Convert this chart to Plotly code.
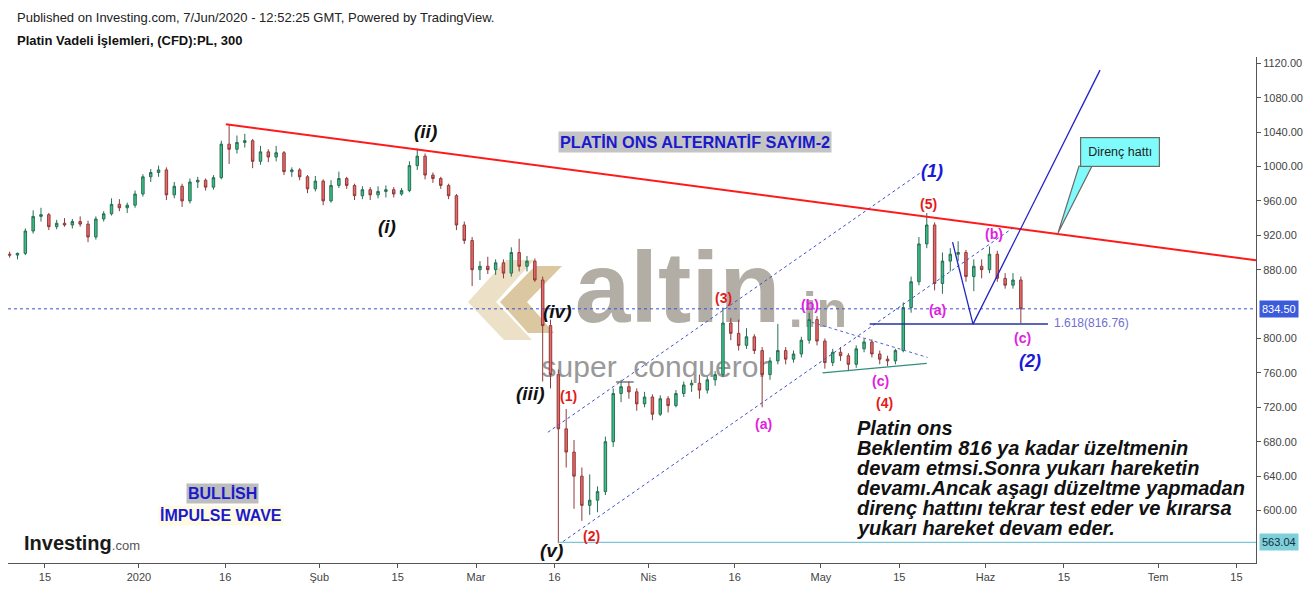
import pandas as pd
import plotly.graph_objects as go

# ---------------- data (daily bars) ----------------
dates = pd.bdate_range("2019-12-09", "2020-06-05")
candle_x = [d + pd.Timedelta(hours=12) for d in dates]

opens = [898, 897, 899, 925, 942, 944, 930, 934, 932, 936,
         933, 918, 939, 945, 956, 952, 955, 968, 988, 993,
         996, 967, 977, 960, 982, 984, 976, 987, 1026, 1020,
         1028, 1030, 1006, 1017, 1011, 1016, 994, 996, 988, 974,
         983, 960, 978, 986, 978, 966, 973, 967, 971, 973,
         968, 972, 1001, 1012, 990, 986, 978, 966, 932, 914,
         880, 884, 880, 888, 876, 900, 884, 890, 868, 815,
         758, 695, 668, 640, 606, 612, 622, 680, 736, 744,
         738, 724, 732, 712, 730, 722, 736, 746, 748, 740,
         752, 758, 818, 806, 792, 802, 786, 758, 774, 786,
         776, 782, 798, 822, 797, 772, 784, 780, 770, 788,
         796, 782, 776, 774, 786, 836, 866, 910, 932, 864,
         890, 898, 900, 872, 884, 880, 898, 870, 862, 868]
highs = [901, 900, 928, 949, 952, 946, 938, 940, 939, 942,
         937, 942, 948, 963, 962, 958, 972, 991, 997, 1001,
         999, 982, 980, 986, 988, 986, 990, 1030, 1048, 1036,
         1038, 1032, 1024, 1020, 1024, 1018, 999, 998, 990, 989,
         985, 984, 994, 988, 980, 977, 976, 977, 978, 976,
         975, 1006, 1021, 1015, 993, 988, 980, 968, 936, 918,
         890, 895, 892, 892, 906, 916, 896, 893, 872, 822,
         764, 718, 682, 650, 642, 628, 686, 742, 752, 750,
         742, 738, 735, 734, 733, 740, 750, 752, 758, 756,
         762, 836, 824, 822, 812, 805, 790, 778, 817, 790,
         786, 802, 830, 826, 800, 788, 790, 783, 792, 800,
         799, 786, 780, 788, 842, 872, 918, 946, 935, 900,
         905, 913, 903, 892, 892, 907, 902, 876, 876, 872]
lows = [894, 892, 897, 922, 936, 926, 927, 930, 928, 930,
        912, 915, 936, 943, 948, 946, 952, 965, 982, 988,
        961, 963, 953, 957, 975, 972, 973, 985, 1003, 1015,
        1022, 998, 1002, 1005, 1006, 990, 988, 984, 969, 971,
        955, 958, 975, 974, 961, 962, 961, 963, 964, 964,
        966, 970, 996, 985, 981, 974, 962, 926, 910, 861,
        868, 875, 874, 870, 872, 878, 878, 866, 750, 742,
        562, 650, 602, 588, 595, 598, 618, 674, 726, 730,
        716, 720, 705, 710, 714, 720, 732, 738, 730, 736,
        745, 755, 798, 786, 788, 782, 720, 752, 770, 770,
        772, 778, 794, 792, 765, 768, 774, 762, 766, 784,
        778, 770, 768, 770, 784, 830, 862, 905, 856, 852,
        878, 890, 866, 855, 870, 876, 866, 858, 858, 818]
closes = [897, 899, 925, 942, 944, 930, 934, 932, 936, 933,
          918, 939, 945, 956, 952, 955, 968, 988, 993, 996,
          967, 977, 960, 982, 984, 976, 987, 1026, 1020, 1028,
          1030, 1006, 1017, 1011, 1016, 994, 996, 988, 974, 983,
          960, 978, 986, 978, 966, 973, 967, 971, 973, 968,
          972, 1001, 1012, 990, 986, 978, 966, 932, 914, 880,
          884, 880, 888, 876, 900, 884, 890, 868, 815, 758,
          695, 668, 640, 606, 612, 622, 680, 736, 744, 738,
          724, 732, 712, 730, 722, 736, 746, 748, 740, 752,
          758, 818, 806, 792, 802, 786, 758, 774, 786, 776,
          782, 798, 822, 797, 772, 784, 780, 770, 788, 796,
          782, 776, 774, 786, 836, 866, 910, 932, 864, 890,
          898, 900, 872, 884, 880, 898, 870, 862, 868, 834.5]

tick_dates = ["2019-12-16", "2020-01-01", "2020-01-16", "2020-02-03", "2020-02-17",
              "2020-03-02", "2020-03-16", "2020-04-01", "2020-04-16", "2020-05-01",
              "2020-05-15", "2020-06-01", "2020-06-15", "2020-07-01", "2020-07-15"]
tick_labels = ["15", "2020", "16", "Şub", "15", "Mar", "16", "Nis", "16", "May",
               "15", "Haz", "15", "Tem", "15"]
# 840.00 is hidden behind the last-price tag in the reference
price_ticks = [600, 640, 680, 720, 760, 800, 880, 920, 960, 1000, 1040, 1080, 1120]

last_price = 834.50
low_price = 563.04
fib_level = 816.76

# analyst drawings (date, price)
resist_x = ["2020-01-16 02:00", "2020-07-17 12:00"]
resist_y = [1049, 891]
chan_up_x = ["2020-03-13 04:00", "2020-05-19 21:30"]
chan_up_y = [691, 994]
chan_lo_x = ["2020-03-17 02:30", "2020-06-04 09:30"]
chan_lo_y = [564, 928]
tri_up_x = ["2020-04-29 19:00", "2020-05-20 14:30"]
tri_up_y = [819, 778]
tri_lo_x = ["2020-05-01 05:00", "2020-05-20 12:00"]
tri_lo_y = [760, 771]
fib_x = ["2020-05-11 05:00", "2020-06-10 23:00"]
v_x = ["2020-05-25 19:00", "2020-05-28 09:30", "2020-06-19 14:30"]
v_y = [912, fib_level, 1112]

# ---------------- layout helpers ----------------
# the page adds an 8px body margin: figure is placed at (8, 8) of the window
OFF = 8
W, H = 1316 - OFF, 589 - OFF - 1
# plot-area edges in window (reference) pixels
PL, PR, PT, PB = 8, 1256, 57, 563


def px(x):
    return (x - PL) / (PR - PL)


def py(y):
    return (PB - y) / (PB - PT)


def path(points):
    return "M " + " L ".join(f"{px(a):.5f},{py(b):.5f}" for a, b in points) + " Z"


FONT = "Liberation Sans, Arial, sans-serif"

fig = go.Figure()
fig.add_trace(go.Candlestick(
    x=candle_x, open=opens, high=highs, low=lows, close=closes,
    increasing=dict(line=dict(color="#2a6e52", width=1), fillcolor="#38c28b"),
    decreasing=dict(line=dict(color="#8e3b3b", width=1), fillcolor="#ee6767"),
    whiskerwidth=0, hoverinfo="skip", showlegend=False,
))

shapes = []


def dline(xs, ys, color, width=1, dash="solid"):
    for i in range(len(xs) - 1):
        shapes.append(dict(type="line", xref="x", yref="y", x0=xs[i], y0=ys[i],
                           x1=xs[i + 1], y1=ys[i + 1],
                           line=dict(color=color, width=width, dash=dash)))


# watermark (below candles)
shapes.append(dict(type="path", xref="paper", yref="paper", layer="below",
                   path=path([(468, 302), (506, 260), (534, 260), (496, 302), (532, 340), (504, 340)]),
                   fillcolor="#ece0c6", line=dict(width=0)))
shapes.append(dict(type="path", xref="paper", yref="paper", layer="below",
                   path=path([(500, 302), (535, 266), (562, 266), (527, 302), (554, 333), (528, 333)]),
                   fillcolor="#dcc8a0", line=dict(width=0)))
shapes.append(dict(type="rect", xref="paper", yref="paper", layer="below",
                   x0=px(565), x1=px(790), y0=py(323), y1=py(233),
                   line=dict(width=0), fillcolor="rgba(0,0,0,0)",
                   label=dict(text="altin", textposition="middle center",
                              font=dict(family=FONT, size=100, color="#b2aea6", weight="bold"))))
shapes.append(dict(type="rect", xref="paper", yref="paper", layer="below",
                   x0=px(783), x1=px(853), y0=py(331), y1=py(279),
                   line=dict(width=0), fillcolor="rgba(0,0,0,0)",
                   label=dict(text=".in", textposition="middle center",
                              font=dict(family=FONT, size=50, color="#b2aea6", weight="bold"))))
shapes.append(dict(type="rect", xref="paper", yref="paper", layer="below",
                   x0=px(530), x1=px(780), y0=py(380), y1=py(346),
                   line=dict(width=0), fillcolor="rgba(0,0,0,0)",
                   label=dict(text="super_conqueror", textposition="middle center",
                              font=dict(family=FONT, size=30, color="#999999"))))

# horizontal price lines
shapes.append(dict(type="line", xref="paper", yref="y", x0=0, x1=1, y0=last_price, y1=last_price,
                   line=dict(color="#3b4fd0", width=1, dash="dot")))
dline(["2020-03-16 12:00", "2020-07-17 12:00"], [low_price, low_price], "#7cc7d6", 1.3)

# drawings
dline(resist_x, resist_y, "#ff1a1a", 2)
dline(chan_up_x, chan_up_y, "#3d4fcc", 1, "dot")
dline(chan_lo_x, chan_lo_y, "#3d4fcc", 1, "dot")
dline(tri_up_x, tri_up_y, "#5560cc", 1, "dot")
dline(tri_lo_x, tri_lo_y, "#2f8f7a", 1.3)
dline(fib_x, [fib_level, fib_level], "#26339a", 1.5)
dline(v_x, v_y, "#2323c8", 1.3)

# callout pointer
shapes.append(dict(type="path", xref="paper", yref="paper",
                   path=path([(1079, 166), (1092, 166), (1058, 233)]),
                   fillcolor="#80fbfb", line=dict(color="#6a6a6a", width=1.2)))

ann = []


def label(text, x, y, color, size, bold=True, italic=False, **kw):
    t = text
    if italic:
        t = f"<i>{t}</i>"
    if bold:
        t = f"<b>{t}</b>"
    d = dict(text=t, xref="paper", yref="paper", x=px(x), y=py(y), showarrow=False,
             font=dict(family=FONT, size=size, color=color), xanchor="center", yanchor="middle")
    d.update(kw)
    ann.append(d)


# header
label("Published on Investing.com, 7/Jun/2020 - 12:52:25 GMT, Powered by TradingView.",
      15, 17, "#222222", 13, bold=False, xanchor="left")
label("Platin Vadeli İşlemleri, (CFD):PL, 300", 15, 41, "#111111", 13, xanchor="left")

# Elliott labels
for t, x, y in [("(ii)", 425, 131), ("(i)", 387, 227), ("(iv)", 557, 311),
                ("(iii)", 530, 394), ("(v)", 551, 550)]:
    label(t, x, y, "#111111", 19, italic=True)
for t, x, y in [("(1)", 568, 396), ("(2)", 591, 536), ("(3)", 723, 298),
                ("(4)", 885, 403), ("(5)", 928, 204)]:
    label(t, x, y, "#e31a1a", 14)
for t, x, y in [("(a)", 763, 424), ("(b)", 810, 305), ("(c)", 880, 381),
                ("(a)", 937, 310), ("(b)", 994, 234), ("(c)", 1022, 338)]:
    label(t, x, y, "#e020e0", 14)
for t, x, y in [("(1)", 932, 171), ("(2)", 1030, 361)]:
    label(t, x, y, "#1a1ad6", 18, italic=True)

label("1.618(816.76)", 1052, 323, "#6f6fd0", 12, bold=False, xanchor="left")

label("PLATİN ONS ALTERNATİF SAYIM-2", 695, 142, "#1a1acc", 16.3, bgcolor="#c4c4c4", borderpad=1)
label("BULLİSH", 222, 493, "#1a1acc", 16, bgcolor="#bdbdbd", borderpad=1)
label("İMPULSE WAVE", 221, 515, "#1a1acc", 16, bgcolor="#fffbe3", borderpad=1)

label("Direnç hattı", 1120, 152, "#222222", 12.5, bold=False, bgcolor="#80fbfb",
      bordercolor="#6a6a6a", borderwidth=1.2, borderpad=7)

label('Investing<span style="font-size:13px;font-weight:normal;fill:#555555">.com</span>',
      22, 543, "#1a1a1a", 20, xanchor="left")

text_lines = ["Platin ons",
              "Beklentim 816 ya kadar üzeltmenin",
              "devam etmsi.Sonra yukarı hareketin",
              "devamı.Ancak aşagı düzeltme yapmadan",
              "direnç hattını tekrar test eder ve kırarsa",
              "yukarı hareket devam eder."]
for k, line in enumerate(text_lines):
    label(line, 855, 428 + 20 * k, "#111111", 20, italic=True, xanchor="left")

# price tags on the axis
ann.append(dict(text=f"{last_price:.2f}", xref="paper", x=1, xanchor="left", xshift=3,
                yref="y", y=last_price, yanchor="middle", showarrow=False,
                font=dict(family=FONT, size=11, color="#ffffff"), bgcolor="#3b5bdb", borderpad=2))
ann.append(dict(text=f"{low_price:.2f}", xref="paper", x=1, xanchor="left", xshift=3,
                yref="y", y=low_price, yanchor="middle", showarrow=False,
                font=dict(family=FONT, size=11, color="#10303a"), bgcolor="#7fcfdb", borderpad=2))

fig.update_layout(
    width=W, height=H,
    margin=dict(l=PL - OFF, r=W - (PR - OFF), t=PT - OFF, b=H - (PB - OFF)),
    paper_bgcolor="#ffffff", plot_bgcolor="rgba(0,0,0,0)",
    showlegend=False, boxgap=0.55,
    font=dict(family=FONT),
    shapes=shapes, annotations=ann,
    xaxis=dict(type="date", range=["2019-12-09 07:00", "2020-07-17 12:00"],
               rangebreaks=[dict(bounds=["sat", "mon"])],
               rangeslider=dict(visible=False),
               tickmode="array", tickvals=tick_dates, ticktext=tick_labels,
               ticks="outside", ticklen=4, tickcolor="#555555",
               showline=True, linecolor="#555555", linewidth=1,
               showgrid=False, zeroline=False,
               tickfont=dict(size=11, color="#444444")),
    yaxis=dict(side="right", range=[539, 1127.3], tickmode="array", tickvals=price_ticks,
               tickformat=".2f", ticks="outside", ticklen=4, tickcolor="#555555",
               showline=True, linecolor="#555555", linewidth=1,
               showgrid=False, zeroline=False,
               tickfont=dict(size=11, color="#444444")),
)

fig.write_html("out.html")
